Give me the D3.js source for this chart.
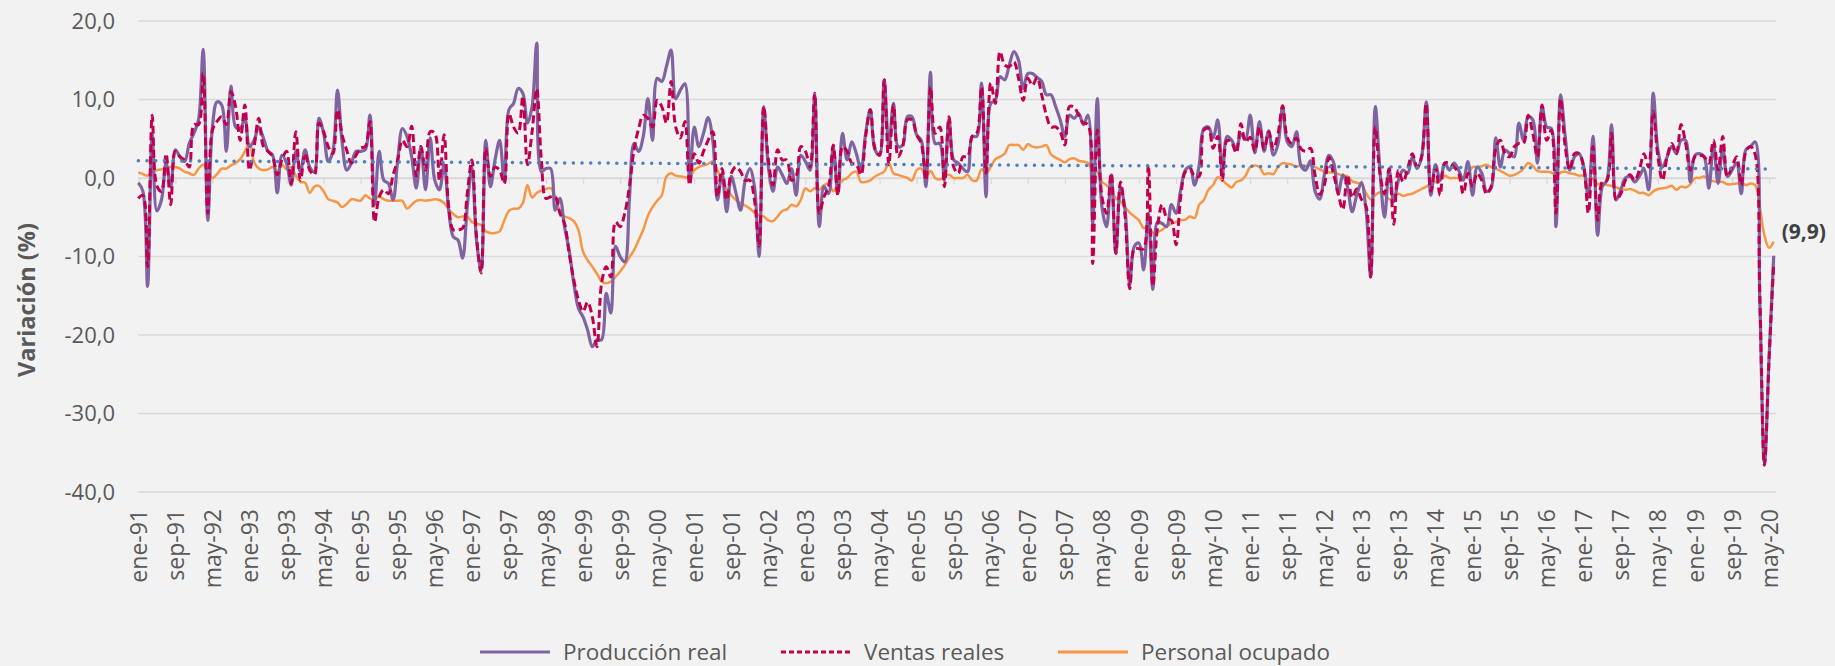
<!DOCTYPE html>
<html>
<head>
<meta charset="utf-8">
<script src="https://cdn.jsdelivr.net/npm/d3@7"></script>
<style>
  html, body { margin: 0; padding: 0; background: #f2f2f2; }
  svg { display: block; font-family: "Open Sans", "Noto Sans", sans-serif; }
</style>
</head>
<body>
<svg id="chart"></svg>
<script>
// Variación anual (%), mensual ene-91 a jun-20
const produccion = [
  -0.6, -1.7, -13.8, 5.5, -4.2, -2.8, 1.9, -1.1, 3.6, 2.7, 2.1, 4.4,
  5.7, 7.4, 16.4, -5.4, 6.5, 9.7, 9.3, 3.4, 11.7, 6.5, 6.3, 7.6,
  4.0, 4.8, 6.5, 5.1, 3.4, 2.9, -1.9, 2.9, 1.9, -0.9, 3.4, 0.8,
  3.6, 1.4, 0.8, 7.6, 5.7, 2.1, 3.4, 11.2, 4.5, 1.0, 1.9, 3.4,
  3.4, 3.6, 8.0, -3.4, 3.4, -0.3, -0.7, -2.8, 2.3, 6.3, 5.3, 2.7,
  -1.3, 4.0, -1.5, 5.1, -0.3, -1.5, 1.7, -4.1, -7.5, -7.9, -10.2, -3.7,
  1.4, -7.9, -11.7, 4.8, -1.1, 2.3, 4.8, -0.5, 8.7, 9.5, 11.4, 10.8,
  7.0, 9.1, 17.2, 0.8, 1.2, 1.2, -4.1, -2.6, -6.2, -9.2, -13.4, -16.6,
  -17.7, -19.4, -21.5, -20.6, -20.6, -14.7, -17.2, -8.7, -10.0, -10.7, -2.8, 4.4,
  3.4, 5.3, 10.1, 4.8, 12.7, 12.3, 14.2, 16.3, 10.1, 11.2, 12.0, -0.3,
  6.5, 4.0, 5.7, 7.7, 4.8, -2.8, 0.6, -4.3, 0.2, -1.9, -4.1, -0.3,
  1.2, -1.1, -10.0, 9.1, 1.4, -1.7, 1.4, 0.4, -0.7, 1.2, -2.2, 2.9,
  2.1, 1.0, 10.6, -6.2, -1.1, -2.0, 4.0, -2.0, 5.7, 2.3, 4.6, 3.1,
  1.0, 5.7, 8.7, 3.6, 2.9, 12.5, 4.0, 9.5, 4.0, 4.2, 7.8, 7.8,
  5.5, 4.8, -1.1, 13.5, 4.4, 4.4, -0.3, 7.6, 2.3, 1.9, 1.2, 0.8,
  5.3, 5.3, 12.1, -2.4, 9.5, 9.9, 12.9, 12.5, 14.4, 16.1, 15.0, 11.4,
  13.3, 13.3, 12.8, 12.3, 10.6, 10.6, 9.1, 7.4, 5.3, 8.0, 7.6, 8.2,
  6.8, 8.0, -5.8, 10.1, -3.7, -6.2, 0.4, -9.6, -1.1, -4.1, -13.6, -8.7,
  -8.3, -11.7, -4.5, -14.2, -5.6, -5.8, -6.2, -3.4, -4.5, -1.5, 1.0, 1.4,
  -0.9, 1.7, 6.3, 6.5, 5.1, 7.4, 0.4, 5.3, 4.8, 3.7, 5.6, 4.9,
  8.0, 3.2, 7.2, 3.4, 6.0, 2.9, 4.3, 9.0, 4.6, 4.0, 5.9, 1.5,
  1.0, 2.2, -1.7, -2.7, 0.4, 2.9, 2.0, -2.0, 0.4, -1.1, -4.3, -2.2,
  -0.6, -4.0, -12.6, 9.1, 1.0, -5.0, 1.0, -3.0, -0.3, 1.0, 0.6, 2.7,
  1.2, 2.7, 9.7, -2.2, 1.7, -0.3, 1.9, 1.0, 1.9, 1.0, -0.3, 2.1,
  -2.2, 1.4, 0.6, -1.7, -1.3, 5.1, 1.4, 3.6, 3.1, 2.7, 7.0, 4.8,
  7.8, 7.4, 1.9, 9.1, 6.5, 6.3, -6.2, 10.6, 5.3, 1.0, 2.7, 3.1,
  1.4, -2.4, 5.3, -7.3, -1.1, -0.3, 6.8, -2.8, -1.5, 0.0, 0.2, -0.5,
  0.2, 1.2, -1.5, 10.8, 3.6, 1.4, 2.7, 4.0, 3.1, 4.8, 4.8, -0.5,
  2.9, 3.1, 2.7, -1.3, 4.2, -0.7, 3.8, 0.2, 1.0, 1.9, -2.0, 3.6,
  4.0, 4.6, -15.5, -36.4, -23.0, -9.9
];

const ventas = [
  -2.6, -2.2, -11.3, 8.0, -1.0, -1.7, 3.1, -3.4, 3.4, 2.7, 2.3, 1.4,
  6.8, 6.8, 13.3, -4.5, 6.1, 7.2, 7.8, 6.8, 11.0, 9.1, 4.8, 9.3,
  1.0, 4.0, 7.6, 4.0, 3.4, 2.7, 0.4, 2.3, 3.4, -0.7, 5.9, -0.3,
  3.1, 1.0, 0.4, 7.0, 5.9, 4.0, 3.1, 8.7, 5.5, 3.5, 1.9, 2.9,
  3.8, 4.0, 7.2, -5.6, -2.4, -1.5, -2.0, 0.4, 2.3, 4.8, 4.0, 6.6,
  0.2, 4.0, 1.0, 5.9, 5.7, -0.3, 5.5, -3.7, -6.6, -6.6, -6.4, -2.0,
  2.3, -7.5, -12.1, 3.8, 0.2, 1.4, 1.0, -0.7, 8.2, 6.5, 5.7, 10.4,
  1.7, 5.9, 11.4, 2.3, -2.6, -2.4, -2.4, -4.5, -5.8, -9.6, -13.0, -15.5,
  -17.0, -15.8, -17.7, -21.5, -13.4, -11.3, -12.6, -5.6, -6.2, -4.5, -1.1, 3.6,
  6.3, 8.0, 7.6, 6.5, 9.9, 9.1, 7.0, 12.3, 6.5, 5.1, 7.2, -0.9,
  3.1, 1.9, 3.4, 4.8, 5.9, -2.4, 1.2, -2.8, 0.6, 1.4, 0.8, -0.3,
  -0.3, -2.8, -8.7, 9.1, 2.3, -0.9, 3.6, 2.3, 2.3, -0.3, 0.2, 4.0,
  3.4, 1.4, 10.8, -4.5, -2.4, -1.1, 4.2, -2.2, 4.0, 3.4, 1.9, 1.7,
  0.4, 5.3, 8.7, 3.8, 2.9, 12.5, 1.7, 9.3, 2.7, 4.0, 7.4, 7.4,
  5.5, 4.4, -0.3, 11.6, 5.7, 6.5, -1.1, 7.8, 1.4, 0.6, 2.7, 2.7,
  5.3, 5.7, 11.6, 0.6, 12.1, 9.5, 16.1, 14.4, 14.2, 14.8, 12.7, 9.9,
  12.7, 11.8, 12.8, 10.6, 8.0, 6.5, 6.5, 5.9, 4.2, 9.1, 9.0, 8.0,
  7.0, 6.8, -10.9, 6.1, -2.4, -4.5, 0.6, -9.6, -0.5, -4.9, -14.1, -9.0,
  -9.0, -9.0, 1.7, -13.8, -6.2, -3.4, -5.1, -5.4, -8.5, -2.4, 0.8, 1.2,
  0.2, 0.2, 6.1, 6.3, 3.8, 5.3, -0.3, 4.8, 4.5, 3.2, 6.9, 4.6,
  5.2, 3.4, 6.5, 3.7, 5.9, 3.7, 5.6, 9.2, 5.2, 4.4, 5.1, 3.7,
  3.4, 3.8, 0.4, -2.1, -0.9, 2.6, 0.5, -2.0, -4.0, 0.4, -2.5, -1.4,
  -2.7, -3.6, -12.6, 6.5, 0.6, -2.0, 1.2, -5.9, 1.0, -0.5, 1.2, 3.1,
  1.4, 2.7, 9.5, -1.7, 1.4, -2.2, 1.9, 1.9, 1.4, 0.6, -2.0, 0.6,
  -1.1, 0.6, -0.3, -2.0, -1.1, 3.8, 4.8, 3.1, 2.7, 4.0, 4.4, 4.4,
  8.0, 5.7, 2.7, 9.3, 4.8, 6.1, -4.5, 10.1, 4.0, 1.0, 3.1, 3.1,
  1.4, -4.5, 4.0, -5.4, -0.5, -0.3, 5.7, -2.8, -2.0, -0.3, 0.4, -0.3,
  1.0, 3.1, 1.4, 8.5, 2.7, -0.3, 2.7, 4.4, 3.1, 6.8, 4.4, 1.0,
  2.7, 2.9, 2.7, 1.9, 4.8, 1.0, 5.3, 0.2, 1.4, 2.7, -0.9, 3.4,
  4.0, 3.0, -15.0, -36.6, -23.0, -10.8
];

const personal = [
  0.7, 0.5, 0.3, 0.8, 1.0, 1.1, 1.3, 1.4, 1.4, 1.2, 0.8, 0.6,
  0.4, 1.2, 1.7, 1.0, 0.0, 0.5, 1.2, 1.2, 1.6, 1.9, 2.4, 3.4,
  4.4, 2.0, 1.2, 1.0, 1.1, 1.4, 0.9, 1.7, 1.1, 1.4, 0.3, -0.5,
  -0.6, -1.9, -1.1, -1.0, -1.7, -2.7, -2.9, -3.1, -3.7, -3.3, -2.7, -2.8,
  -2.9, -2.2, -2.6, -2.7, -2.4, -2.7, -2.9, -2.9, -2.9, -2.9, -3.9, -3.4,
  -2.9, -2.8, -2.9, -2.8, -2.7, -2.8, -3.2, -4.0, -4.6, -5.0, -4.9, -4.9,
  -5.6, -5.8, -6.0, -6.8, -7.0, -7.0, -6.8, -5.4, -4.2, -3.9, -3.9, -3.2,
  -0.9, -2.5, -1.9, -1.6, -1.4, -1.3, -2.4, -4.2, -4.9, -5.1, -5.5, -6.6,
  -9.4, -10.5, -11.3, -12.2, -13.2, -13.4, -13.2, -12.6, -11.9, -11.1, -10.1, -9.2,
  -7.9, -6.6, -4.8, -3.7, -2.9, -2.2, 0.2, 0.6, 0.3, 0.2, 0.1, 0.0,
  1.0, 1.4, 1.6, 1.8, 2.1, 1.0, -0.5, -1.3, -2.2, -2.8, -3.2, -3.5,
  -3.9, -4.4, -4.7, -4.9, -5.4, -5.5, -4.9, -4.2, -4.0, -3.4, -3.6, -2.8,
  -1.3, -1.7, -1.3, -1.5, -0.9, -0.7, -1.7, -0.9, -0.3, 0.0, 0.6, 0.8,
  -0.5, -0.5, -0.3, 0.2, 0.5, 0.8, 1.9, 0.6, 0.4, 0.2, 0.0, -0.3,
  1.0, 1.2, 0.0, 0.9, 0.0, -0.2, 0.2, 0.4, 0.0, 0.0, 0.0, 0.4,
  -0.3, -0.3, 1.1, 0.6, 1.4, 2.4, 2.7, 3.1, 4.2, 4.2, 4.2, 3.6,
  4.3, 4.0, 3.9, 4.0, 4.2, 3.0, 2.6, 2.3, 2.0, 2.4, 2.5, 2.2,
  2.1, 1.9, 0.9, 0.8, -0.5, -0.9, -1.6, -2.6, -3.0, -3.7, -4.4, -4.9,
  -5.4, -6.4, -6.3, -7.0, -6.9, -6.6, -6.1, -5.8, -5.6, -5.4, -5.3, -4.9,
  -5.1, -3.4, -2.8, -1.5, -0.9, 0.1, -0.3, -0.8, -1.2, -0.5, -0.3, 0.3,
  1.4, 1.6, 1.4, 0.5, 0.6, 0.5, 1.4, 1.9, 1.8, 1.7, 1.4, 1.7,
  1.5, 1.7, 1.4, 1.1, 0.8, 0.7, 0.7, 0.5, 0.3, 0.2, -0.4, -0.6,
  -0.8, -1.9, -2.7, -2.2, -1.8, -2.2, -2.7, -2.4, -2.0, -2.3, -2.1, -2.0,
  -1.7, -1.4, -1.1, -0.7, -0.5, -0.3, 0.3, 0.0, 0.0, 0.0, 0.1, 0.5,
  1.4, 1.4, 1.5, 1.7, 1.4, 1.2, 0.9, 0.6, 0.3, 0.4, 0.7, 1.2,
  1.9, 1.5, 0.9, 0.8, 0.8, 0.7, 0.3, 0.7, 0.8, 0.6, 0.5, 0.3,
  0.3, -0.3, 0.0, -0.8, -0.6, -0.9, -1.0, -1.2, -1.4, -1.5, -1.4, -1.6,
  -1.9, -1.9, -2.2, -1.7, -1.4, -1.3, -1.2, -1.0, -1.5, -1.1, -1.2, -0.8,
  0.0, 0.0, 0.2, -0.3, -0.4, -0.5, -0.5, -0.8, -0.8, -0.7, -0.6, -0.9,
  -0.7, -0.9, -3.7, -7.3, -8.9, -8.1
];

// línea de tendencia (inicio y fin)
const tendencia = [2.2, 1.15];

const etiquetasX = [
  "ene-91", "sep-91", "may-92", "ene-93", "sep-93", "may-94", "ene-95", "sep-95",
  "may-96", "ene-97", "sep-97", "may-98", "ene-99", "sep-99", "may-00", "ene-01",
  "sep-01", "may-02", "ene-03", "sep-03", "may-04", "ene-05", "sep-05", "may-06",
  "ene-07", "sep-07", "may-08", "ene-09", "sep-09", "may-10", "ene-11", "sep-11",
  "may-12", "ene-13", "sep-13", "may-14", "ene-15", "sep-15", "may-16", "ene-17",
  "sep-17", "may-18", "ene-19", "sep-19", "may-20"
];
const pasoEtiqueta = 8;
const ticksY = [-40, -30, -20, -10, 0, 10, 20];
const ultimoValor = "(9,9)";

const width = 1835, height = 666;
const svg = d3.select("#chart").attr("width", width).attr("height", height);

svg.append("rect").attr("width", width).attr("height", height).attr("fill", "#f2f2f2");

const n = produccion.length;
const x = d3.scaleLinear().domain([0, n - 1]).range([138.3, 1773.7]);
const y = d3.scaleLinear().domain([-40, 20]).range([492, 21]);

const es = d3.formatLocale({ decimal: ",", thousands: ".", grouping: [3], currency: ["", ""], minus: "-" });
const fmt = es.format(".1f");

// Rejilla horizontal
svg.append("g")
  .selectAll("line")
  .data(ticksY)
  .join("line")
    .attr("x1", 138).attr("x2", 1776)
    .attr("y1", d => y(d)).attr("y2", d => y(d))
    .attr("stroke", "#d9d9d9")
    .attr("stroke-width", 1.3);

// Eje Y
const yAxis = svg.append("g")
  .attr("transform", "translate(115,0)")
  .call(d3.axisLeft(y).tickValues(ticksY).tickFormat(fmt).tickSize(0).tickPadding(0));
yAxis.select(".domain").remove();
yAxis.selectAll("text")
  .attr("fill", "#595959")
  .attr("font-size", 22)
  .attr("font-family", "Open Sans, sans-serif");

// Marcas sobre la línea de cero
const idxTicks = etiquetasX.map((d, i) => i * pasoEtiqueta);
const tickAxis = svg.append("g")
  .attr("transform", `translate(0,${y(0)})`)
  .call(d3.axisBottom(x).tickValues(idxTicks).tickFormat("").tickSize(6).tickSizeOuter(0));
tickAxis.select(".domain").attr("stroke", "#d9d9d9").attr("stroke-width", 1.3);
tickAxis.selectAll(".tick line").attr("stroke", "#d9d9d9").attr("stroke-width", 1.3);

// Etiquetas X (abajo)
const xAxis = svg.append("g")
  .attr("transform", `translate(0,${y(-40)})`)
  .call(d3.axisBottom(x).tickValues(idxTicks).tickFormat((d, i) => etiquetasX[i]).tickSize(0));
xAxis.select(".domain").remove();
xAxis.selectAll("text")
  .attr("fill", "#595959")
  .attr("font-size", 23)
  .attr("font-family", "Open Sans, sans-serif")
  .attr("text-anchor", "end")
  .attr("transform", "rotate(-90)")
  .attr("x", -17)
  .attr("y", 0)
  .attr("dy", "0.35em");

// Título eje Y
svg.append("text")
  .attr("transform", `translate(27,${300}) rotate(-90)`)
  .attr("text-anchor", "middle")
  .attr("dy", "0.35em")
  .attr("font-size", 23.5)
  .attr("font-weight", "bold")
  .attr("fill", "#595959")
  .text("Variación (%)");

// Líneas
const curva = d3.curveCatmullRom.alpha(0.5);
const linea = d3.line().x((d, i) => x(i)).y(d => y(d)).curve(curva);

svg.append("path")
  .datum(personal)
  .attr("fill", "none")
  .attr("stroke", "#f79646")
  .attr("stroke-width", 2.5)
  .attr("d", linea);

svg.append("path")
  .datum(produccion)
  .attr("fill", "none")
  .attr("stroke", "#8064a2")
  .attr("stroke-width", 3.2)
  .attr("d", linea);

svg.append("path")
  .datum(ventas)
  .attr("fill", "none")
  .attr("stroke", "#c0004e")
  .attr("stroke-width", 3)
  .attr("stroke-dasharray", "8,4")
  .attr("d", linea);

// Tendencia
svg.append("line")
  .attr("x1", x(0)).attr("x2", x(n - 1))
  .attr("y1", y(tendencia[0])).attr("y2", y(tendencia[1]))
  .attr("stroke", "#4f81bd")
  .attr("stroke-width", 3.5)
  .attr("stroke-linecap", "round")
  .attr("stroke-dasharray", "0.1,8.6");

// Etiqueta del último dato
svg.append("text")
  .attr("x", x(n - 1) + 8)
  .attr("y", y(produccion[n - 1]) - 24)
  .attr("dy", "0.35em")
  .attr("font-size", 21)
  .attr("font-weight", "bold")
  .attr("fill", "#404040")
  .text(ultimoValor);

// Leyenda
const leyenda = [
  { nombre: "Producción real", color: "#8064a2", dash: null, w: 3, x: 480 },
  { nombre: "Ventas reales", color: "#c0004e", dash: "5,3", w: 3, x: 781 },
  { nombre: "Personal ocupado", color: "#f79646", dash: null, w: 3, x: 1058 }
];
const ly = 652;
const lg = svg.append("g").selectAll("g").data(leyenda).join("g")
  .attr("transform", d => `translate(${d.x},${ly})`);
lg.append("line")
  .attr("x1", 0).attr("x2", 70)
  .attr("stroke", d => d.color)
  .attr("stroke-width", d => d.w)
  .attr("stroke-dasharray", d => d.dash);
lg.append("text")
  .attr("x", 83)
  .attr("dy", "0.35em")
  .attr("font-size", 22.5)
  .attr("fill", "#595959")
  .text(d => d.nombre);
</script>
</body>
</html>
